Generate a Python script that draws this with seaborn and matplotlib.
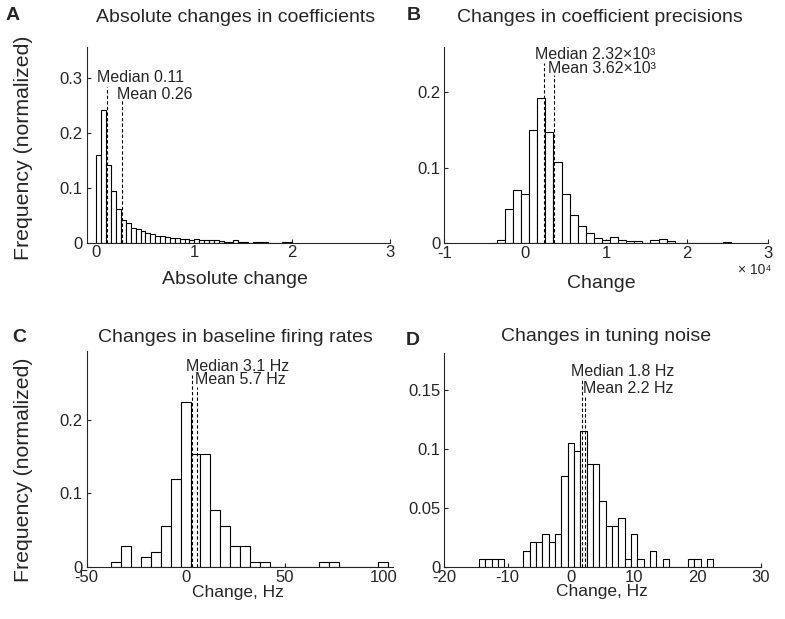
import matplotlib
matplotlib.use("Agg")
import matplotlib.pyplot as plt
import seaborn as sns

# A: absolute changes in coefficients (bin centres, normalized frequency)
a_bins = [0.025, 0.075, 0.125, 0.175, 0.225, 0.275, 0.325, 0.375, 0.425, 0.475,
          0.525, 0.575, 0.625, 0.675, 0.725, 0.775, 0.825, 0.875, 0.925, 0.975,
          1.025, 1.075, 1.125, 1.175, 1.225, 1.275, 1.325, 1.375, 1.425, 1.475,
          1.525, 1.575, 1.625, 1.675, 1.725, 1.775, 1.825, 1.875, 1.925, 1.975]
a_freq = [0.160, 0.241, 0.141, 0.093, 0.062, 0.041, 0.036, 0.027, 0.025, 0.021,
          0.018, 0.015, 0.013, 0.012, 0.010, 0.009, 0.008, 0.007, 0.006, 0.005,
          0.006, 0.005, 0.005, 0.004, 0.004, 0.003, 0.002, 0.001, 0.004, 0.002,
          0.001, 0.000, 0.001, 0.001, 0.001, 0.000, 0.000, 0.000, 0.001, 0.001]
a_median, a_mean = 0.11, 0.26

# B: changes in coefficient precisions
b_bins = [-4000, -3000, -2000, -1000, 0, 1000, 2000, 3000, 4000, 5000,
          6000, 7000, 8000, 9000, 10000, 11000, 12000, 13000, 14000, 15000,
          16000, 17000, 18000, 19000, 20000, 21000, 22000, 23000, 24000, 25000]
b_freq = [0.001, 0.005, 0.046, 0.071, 0.065, 0.150, 0.192, 0.147, 0.108, 0.065,
          0.037, 0.023, 0.013, 0.0066, 0.0044, 0.0088, 0.0044, 0.003, 0.003, 0.001,
          0.0044, 0.0057, 0.0035, 0.001, 0.0005, 0.0, 0.0005, 0.0005, 0.0005, 0.0022]
b_median, b_mean = 2320, 3620

# C: changes in baseline firing rates (Hz)
c_bins = [-35, -30, -20, -15, -10, -5, 0, 5, 10, 15, 20, 25, 30, 35, 40, 70, 75, 100]
c_freq = [0.007, 0.028, 0.014, 0.021, 0.056, 0.119, 0.224, 0.154, 0.154, 0.077,
          0.056, 0.028, 0.028, 0.007, 0.007, 0.007, 0.007, 0.007]
c_median, c_mean = 3.1, 5.7

# D: changes in tuning noise (Hz)
d_bins = [-14, -13, -12, -11, -7, -6, -5, -4, -3, -2, -1, 0, 1, 2, 3, 4, 5, 6, 7, 8,
          9, 10, 11, 13, 15, 19, 20, 22]
d_freq = [0.007, 0.007, 0.007, 0.007, 0.014, 0.021, 0.021, 0.028, 0.021, 0.028,
          0.077, 0.105, 0.098, 0.115, 0.087, 0.087, 0.056, 0.035, 0.035, 0.042,
          0.007, 0.028, 0.007, 0.014, 0.007, 0.007, 0.007, 0.007]
d_median, d_mean = 1.8, 2.2

b_xticks = [-10000, 0, 10000, 20000, 30000]
b_xticklabels = ['-1', '0', '1', '2', '3']

sns.set_style("ticks")
plt.rcParams['font.family'] = ['Liberation Sans', 'DejaVu Sans']
plt.rcParams['axes.unicode_minus'] = False

fig = plt.figure(figsize=(7.85, 6.19), dpi=100)
W, H = 785, 619


def add_panel(px, centers, freq, binwidth, binrange, xlim, ylim, xticks, yticks):
    l, t, r, b = px
    ax = fig.add_axes([l / W, 1 - b / H, (r - l) / W, (b - t) / H])
    sns.histplot(x=centers, weights=freq, binwidth=binwidth, binrange=binrange,
                 stat='count', color='white', edgecolor='black', linewidth=0.8,
                 alpha=1, ax=ax)
    ax.set_xlim(*xlim)
    ax.set_ylim(0, ylim)
    ax.set_xticks(xticks)
    ax.set_yticks(yticks)
    ax.xaxis.set_major_formatter(matplotlib.ticker.FormatStrFormatter('%g'))
    ax.yaxis.set_major_formatter(matplotlib.ticker.FormatStrFormatter('%g'))
    ax.tick_params(direction='in', length=3, width=0.8, labelsize=12, pad=3)
    ax.tick_params(axis='x', pad=2)
    for s in ['left', 'bottom']:
        ax.spines[s].set_linewidth(0.8)
    sns.despine(ax=ax)
    ax.set_ylabel('')
    return ax


def stat_lines(ax, med, mean, med_txt, mean_txt, med_tx, mean_tx, med_ty, mean_ty,
               med_top, mean_top):
    dash = (0, (3, 2))
    ax.plot([med, med], [0, med_top], color='black', lw=0.8, ls=dash)
    ax.plot([mean, mean], [0, mean_top], color='black', lw=0.8, ls=dash)
    ax.text(med_tx, med_ty, med_txt, fontsize=11.5, ha='left', va='bottom')
    ax.text(mean_tx, mean_ty, mean_txt, fontsize=11.5, ha='left', va='bottom')


# A
ax = add_panel((86.7, 46.7, 390, 242.7), a_bins, a_freq, 0.05, (0, 2.0),
               (-0.1, 3), 0.356, [0, 1, 2, 3], [0, 0.1, 0.2, 0.3])
stat_lines(ax, a_median, a_mean, 'Median 0.11', 'Mean 0.26',
           0.005, 0.21, 0.287, 0.255, 0.283, 0.259)
ax.set_title('Absolute changes in coefficients', fontsize=14, pad=18, x=0.49)
ax.set_xlabel('Absolute change', fontsize=14, va='top')
ax.xaxis.set_label_coords(0.49, -0.145)
ax.set_ylabel('Frequency (normalized)', fontsize=15.3)
ax.yaxis.set_label_coords(-0.177, 0.486)

# B
ax = add_panel((444.3, 46.7, 767.7, 243.3), b_bins, b_freq, 1000, (-4500, 25500),
               (-10000, 30000), 0.26, b_xticks, [0, 0.1, 0.2])
ax.set_xticks(b_xticks, b_xticklabels)
stat_lines(ax, b_median, b_mean, 'Median 2.32×10³', 'Mean 3.62×10³',
           1200, 2800, 0.240, 0.221, 0.238, 0.222)
ax.set_title('Changes in coefficient precisions', fontsize=14, pad=18, x=0.48)
ax.set_xlabel('Change', fontsize=14, va='top')
ax.xaxis.set_label_coords(0.484, -0.16)
ax.text(1.01, -0.1, '× 10⁴', transform=ax.transAxes, fontsize=10,
        ha='right', va='top')

# C
ax = add_panel((86.7, 350.7, 393.3, 567), c_bins, c_freq, 5, (-37.5, 102.5),
               (-50, 105), 0.294, [-50, 0, 50, 100], [0, 0.1, 0.2])
stat_lines(ax, c_median, c_mean, 'Median 3.1 Hz', 'Mean 5.7 Hz',
           0.3, 4.6, 0.263, 0.244, 0.261, 0.245)
ax.set_title('Changes in baseline firing rates', fontsize=14, pad=6, x=0.484)
ax.set_xlabel('Change, Hz', fontsize=12.5, va='top')
ax.xaxis.set_label_coords(0.492, -0.082)
ax.set_ylabel('Frequency (normalized)', fontsize=15.3)
ax.yaxis.set_label_coords(-0.175, 0.45)

# D
ax = add_panel((444.3, 353.3, 760.7, 567.3), d_bins, d_freq, 1, (-14.5, 22.5),
               (-20, 30), 0.181, [-20, -10, 0, 10, 20, 30], [0, 0.05, 0.1, 0.15])
stat_lines(ax, d_median, d_mean, 'Median 1.8 Hz', 'Mean 2.2 Hz',
           0.0, 1.9, 0.159, 0.145, 0.160, 0.146)
ax.set_title('Changes in tuning noise', fontsize=14, pad=8.5, x=0.51)
ax.set_xlabel('Change, Hz', fontsize=12.5, va='top')
ax.xaxis.set_label_coords(0.497, -0.08)

# panel letters
for letter, x, y in [('A', 6, 7), ('B', 407, 7), ('C', 12, 329), ('D', 406, 332)]:
    fig.text(x / W, 1 - y / H, letter, fontsize=14, fontweight='bold',
             ha='left', va='top')

fig.savefig('out.png', dpi=100, facecolor='white')
